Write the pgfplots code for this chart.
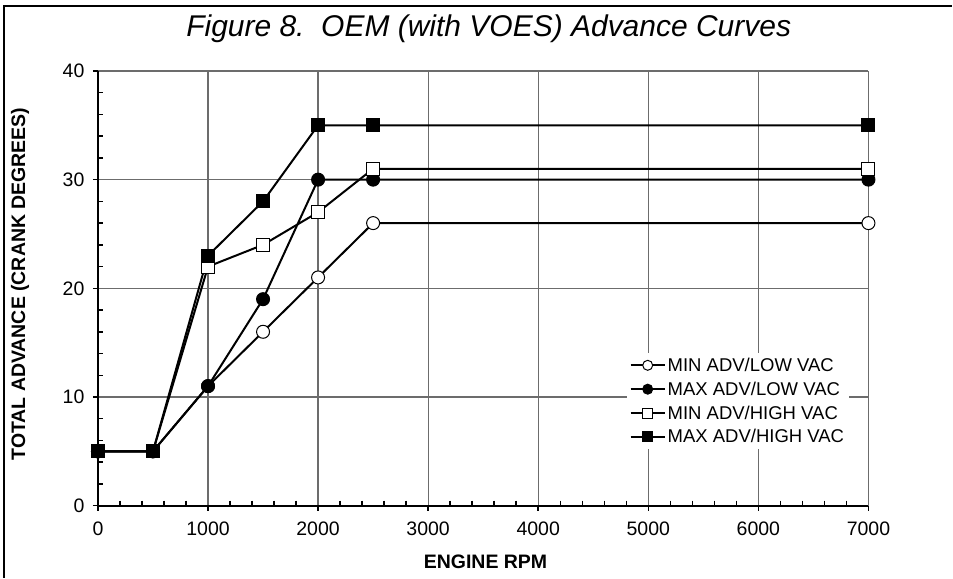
\documentclass[border=0pt]{standalone}
\usepackage{fontspec}
\setmainfont{Liberation Sans}
\usepackage{pgfplots}
\pgfplotsset{compat=1.18}
\begin{document}
\begin{tikzpicture}[x=1pt,y=1pt]
\path (0,0) rectangle (953,578);
\draw[line width=1.2pt] (4,0) -- (4,572) -- (953,572);
\node[font=\fontsize{30}{36}\selectfont\itshape] at (489,549) {Figure 8.\ \ OEM (with VOES) Advance Curves};
\begin{axis}[
  at={(98pt,72pt)}, anchor=south west,
  scale only axis, width=771pt, height=435pt,
  xmin=0, xmax=7000, ymin=0, ymax=40,
  xtick={0,1000,...,7000}, ytick={0,10,...,40},
  minor x tick num=4, minor y tick num=4,
  axis lines*=left,
  axis line style={line width=2pt, black},
  tick align=outside,
  major tick length=5pt, minor tick length=-5pt,
  tick style={black, line width=1.5pt},
  grid=major,
  major grid style={line width=1.3pt, gray!85!black},
  clip=false,
  /pgf/number format/1000 sep={},
  /pgf/number format/assume math mode=true,
  ticklabel style={font=\fontsize{19.5}{22}\selectfont},
  yticklabel style={xshift=-5pt},
  xticklabel style={yshift=-8pt},
  xlabel={ENGINE RPM},
  ylabel={TOTAL ADVANCE (CRANK DEGREES)},
  every axis x label/.style={at={(axis description cs:0.503,-0.129)}, anchor=center, font=\fontsize{19.5}{22}\selectfont\bfseries},
  every axis y label/.style={at={(axis description cs:-0.101,0.51)}, anchor=center, rotate=90, font=\fontsize{19.5}{22}\selectfont\bfseries},
  legend style={at={(0.686,0.352)}, anchor=north west, draw=none, fill=white,
    font=\fontsize{18.5}{22}\selectfont, row sep=5pt, inner sep=3pt},
  legend cell align=left,
  legend image code/.code={\draw[mark repeat=2,mark phase=2,#1] plot coordinates {(0pt,0pt) (17pt,0pt) (34pt,0pt)};},
  every legend image post/.append style={mark size=5pt},
  every axis plot/.append style={black, line width=2pt, mark size=6.5pt},
]
\addplot[mark=*, mark options={fill=white, line width=1pt}] coordinates {
  (0,5) (500,5) (1000,11) (1500,16) (2000,21) (2500,26) (7000,26)};
\addlegendentry{MIN ADV/LOW VAC}
\addplot[mark=*, mark options={fill=black, line width=1pt}] coordinates {
  (0,5) (500,5) (1000,11) (1500,19) (2000,30) (2500,30) (7000,30)};
\addlegendentry{MAX ADV/LOW VAC}
\addplot[mark=square*, mark options={fill=white, line width=1pt}] coordinates {
  (0,5) (500,5) (1000,22) (1500,24) (2000,27) (2500,31) (7000,31)};
\addlegendentry{MIN ADV/HIGH VAC}
\addplot[mark=square*, mark options={fill=black, line width=1pt}] coordinates {
  (0,5) (500,5) (1000,23) (1500,28) (2000,35) (2500,35) (7000,35)};
\addlegendentry{MAX ADV/HIGH VAC}
\end{axis}
\end{tikzpicture}
\end{document}
